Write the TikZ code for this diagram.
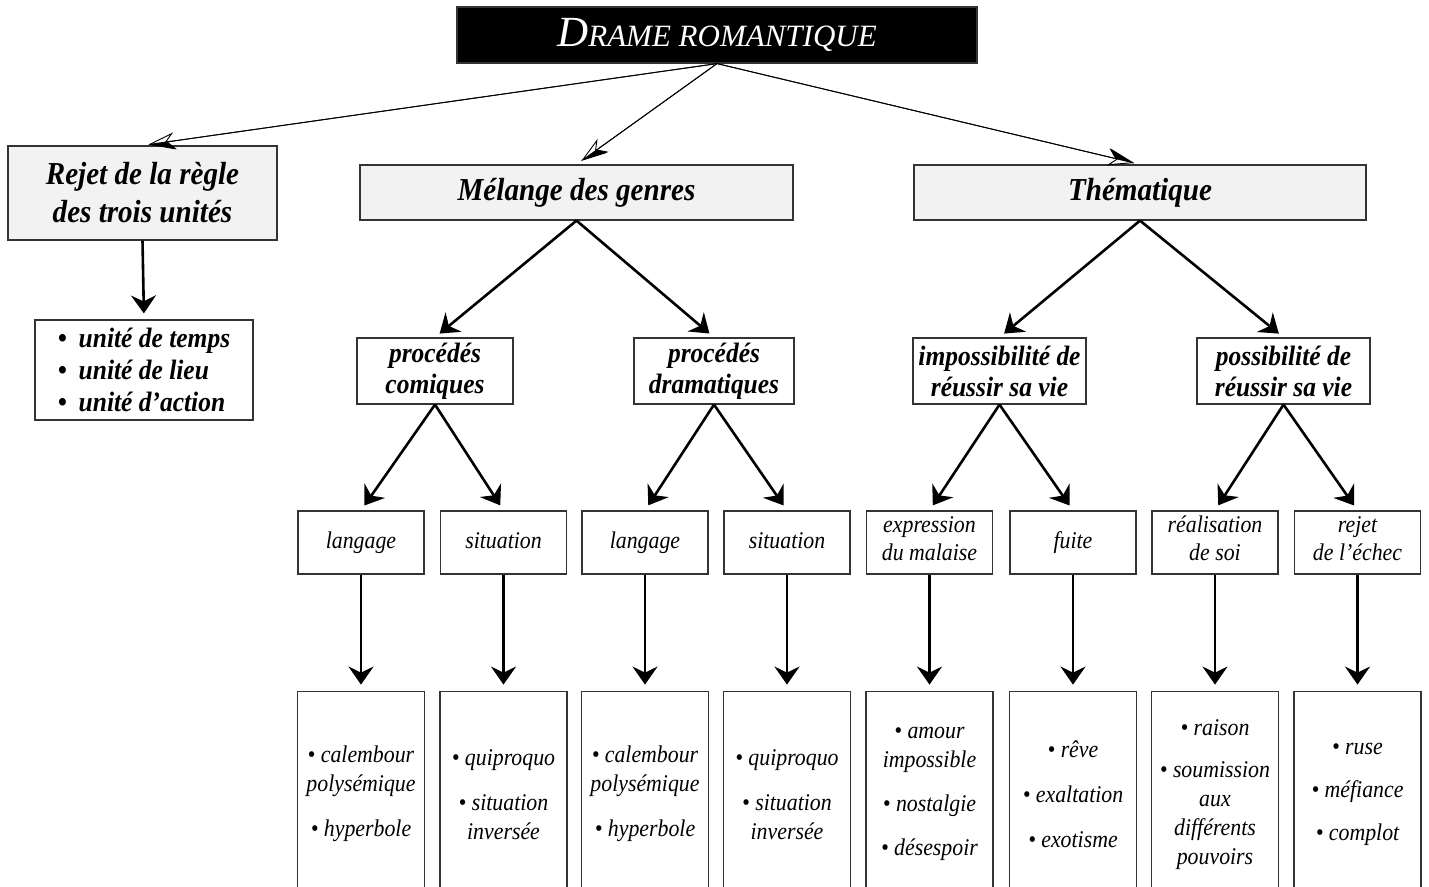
\documentclass[tikz,border=0pt]{standalone}
\usepackage{fontspec}
\setmainfont{Liberation Serif}[FakeStretch=0.91]
\newfontfamily\titlefont{Liberation Serif}
\usetikzlibrary{arrows.meta,positioning}

\tikzset{
  box/.style={draw=black!80, line width=1.2pt, inner sep=2pt, align=center},
  mainbox/.style={box, fill=black!5, font=\bfseries\itshape\fontsize{32}{38}\selectfont, minimum height=55pt},
  subbox/.style={box, font=\bfseries\itshape\fontsize{28}{31}\selectfont, minimum height=66pt},
  itembox/.style={box, font=\itshape\fontsize{24}{28}\selectfont, minimum width=126pt, minimum height=63pt,
    execute at begin node=\strut, execute at end node=\strut},
  leafbox/.style={box, font=\itshape\fontsize{24}{29}\selectfont, minimum width=127pt, minimum height=206pt},
  thinarrow/.style={-{Stealth[open, length=26pt, width=17pt, inset=8pt]}, line width=0.9pt, shorten >=6pt,
    postaction={draw, -{Stealth[harpoon, length=26pt, width=17pt, inset=8pt]}}},
  thickarrow/.style={-{Stealth[length=18pt, width=25pt, inset=6pt]}, line width=2.6pt, shorten >=6pt},
}

\begin{document}
\begin{tikzpicture}[x=1pt, y=-1pt]
  \useasboundingbox (0,0) rectangle (1429,886);

  % title
  \node[fill=black, draw=black!80, line width=1.2pt, minimum width=520pt, minimum height=56pt,
        text=white, font=\titlefont\itshape] (drame) at (717,35)
        {{\fontsize{43}{43}\selectfont D}{\fontsize{31}{31}\selectfont RAME ROMANTIQUE}};

  % first level
  \node[mainbox, minimum width=269pt, minimum height=94pt] (rejet) at (142.5,193) {Rejet de la règle\\des trois unités};
  \node[mainbox, minimum width=433pt] (melange) at (576.5,192.5) {Mélange des genres};
  \node[mainbox, minimum width=452pt] (thema) at (1140,192.5) {Thématique};

  % second level
  \node[box, minimum width=218pt, minimum height=100pt, align=left,
        font=\bfseries\itshape\fontsize{28}{32}\selectfont] (unites) at (144,370)
        {\textbullet\hspace{12pt}unité de temps\\\textbullet\hspace{12pt}unité de lieu\\\textbullet\hspace{12pt}unité d’action};
  \node[subbox, minimum width=156pt] (comiques) at (435,371) {procédés\\comiques};
  \node[subbox, minimum width=160pt] (dramatiques) at (714,371) {procédés\\dramatiques};
  \node[subbox, minimum width=173pt] (impossible) at (999.5,371) {impossibilité de\\réussir sa vie};
  \node[subbox, minimum width=173pt] (possible) at (1283.5,371) {possibilité de\\réussir sa vie};

  % third level and leaves
  \foreach \name/\x/\txt/\leaf in {
      langA/361/langage/{\textbullet\ calembour\\polysémique\\[16pt]\textbullet\ hyperbole},
      situA/503.5/situation/{\textbullet\ quiproquo\\[16pt]\textbullet\ situation\\inversée},
      langB/645/langage/{\textbullet\ calembour\\polysémique\\[16pt]\textbullet\ hyperbole},
      situB/787/situation/{\textbullet\ quiproquo\\[16pt]\textbullet\ situation\\inversée},
      malaise/929.5/{expression\\du malaise}/{\textbullet\ amour\\impossible\\[15pt]\textbullet\ nostalgie\\[15pt]\textbullet\ désespoir},
      fuite/1073/fuite/{\textbullet\ rêve\\[16pt]\textbullet\ exaltation\\[16pt]\textbullet\ exotisme},
      soi/1215/{réalisation\\de soi}/{\textbullet\ raison\\[13pt]\textbullet\ soumission\\aux\\différents\\pouvoirs},
      echec/1357.5/{rejet\\de l’échec}/{\textbullet\ ruse\\[14pt]\textbullet\ méfiance\\[14pt]\textbullet\ complot}}
  {
    \node[itembox] (\name) at (\x,542.5) {\txt};
    \node[leafbox, below=116pt of \name] (\name-l) {\leaf};
    \draw[thickarrow] (\name.south) -- (\name-l.north);
  }

  % connectors
  \foreach \b in {rejet,melange,thema}
    \draw[thinarrow] (drame.south) -- (\b.north);
  \foreach \a/\b in {rejet/unites, melange/comiques, melange/dramatiques,
      thema/impossible, thema/possible, comiques/langA, comiques/situA,
      dramatiques/langB, dramatiques/situB, impossible/malaise, impossible/fuite,
      possible/soi, possible/echec}
    \draw[thickarrow] (\a.south) -- (\b.north);
\end{tikzpicture}
\end{document}
